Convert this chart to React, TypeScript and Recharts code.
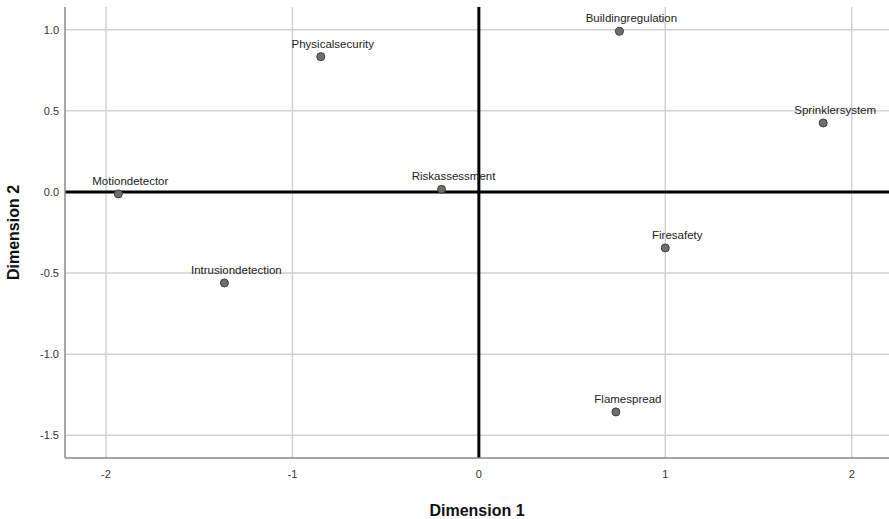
import React from 'react';
import {
  ScatterChart, Scatter, XAxis, YAxis, CartesianGrid, ReferenceLine,
} from 'recharts';

// Object points on the two MDS dimensions
const terms = [
  'Motiondetector', 'Intrusiondetection', 'Physicalsecurity', 'Riskassessment',
  'Buildingregulation', 'Sprinklersystem', 'Firesafety', 'Flamespread',
];
const dim1 = [-1.934, -1.365, -0.848, -0.2, 0.754, 1.847, 1.0, 0.735];
const dim2 = [-0.012, -0.561, 0.834, 0.016, 0.99, 0.425, -0.345, -1.356];

const xTicks = [-2, -1, 0, 1, 2];
const yTicks = [-1.5, -1.0, -0.5, 0.0, 0.5, 1.0];

const points = terms.map((name, i) => ({ name, x: dim1[i], y: dim2[i] }));

const FONT = 'Arial, "Liberation Sans", sans-serif';

const PointWithLabel = (props: any) => {
  const { cx, cy, payload } = props;
  return (
    <g>
      <circle cx={cx} cy={cy} r={4} fill="#6e6e6e" stroke="#3c3c3c" strokeWidth={1} />
      <text
        x={cx + 12}
        y={cy - 9}
        textAnchor="middle"
        fontSize={11.5}
        fontFamily={FONT}
        fill="#222"
      >
        {payload.name}
      </text>
    </g>
  );
};

export default function App() {
  return (
    <div style={{ position: 'absolute', left: 0, top: 0, background: '#fff' }}>
      <ScatterChart
        width={889}
        height={519}
        margin={{ top: 7, right: 0, bottom: 0, left: 0 }}
      >
        {/* grid only at the tick values, not along the plot edges */}
        <CartesianGrid stroke="#d2d2d2" strokeWidth={1.5} syncWithTicks />
        <XAxis
          type="number"
          dataKey="x"
          domain={[-2.22, 2.2]}
          ticks={xTicks}
          allowDataOverflow
          height={61}
          tickLine={false}
          axisLine={{ stroke: '#8a8a8a', strokeWidth: 1.5 }}
          tick={{ fontSize: 11, fill: '#333', fontFamily: FONT }}
          tickMargin={6}
          label={{
            value: 'Dimension 1',
            position: 'insideBottom',
            offset: 3,
            style: { fontSize: 16, fontWeight: 'bold', fill: '#111', fontFamily: FONT },
          }}
        />
        <YAxis
          type="number"
          dataKey="y"
          domain={[-1.64, 1.14]}
          ticks={yTicks}
          allowDataOverflow
          width={65}
          tickLine={false}
          axisLine={{ stroke: '#8a8a8a', strokeWidth: 1.5 }}
          tick={{ fontSize: 11, fill: '#333', fontFamily: FONT }}
          tickFormatter={(v: number) => v.toFixed(1)}
          tickMargin={0}
          label={{
            value: 'Dimension 2',
            angle: -90,
            position: 'insideLeft',
            offset: 13,
            style: { fontSize: 16, fontWeight: 'bold', fill: '#111', fontFamily: FONT, textAnchor: 'middle' },
          }}
        />
        <ReferenceLine x={0} stroke="#000" strokeWidth={3} />
        <ReferenceLine y={0} stroke="#000" strokeWidth={3} />
        <Scatter data={points} shape={<PointWithLabel />} isAnimationActive={false} />
      </ScatterChart>
    </div>
  );
}
